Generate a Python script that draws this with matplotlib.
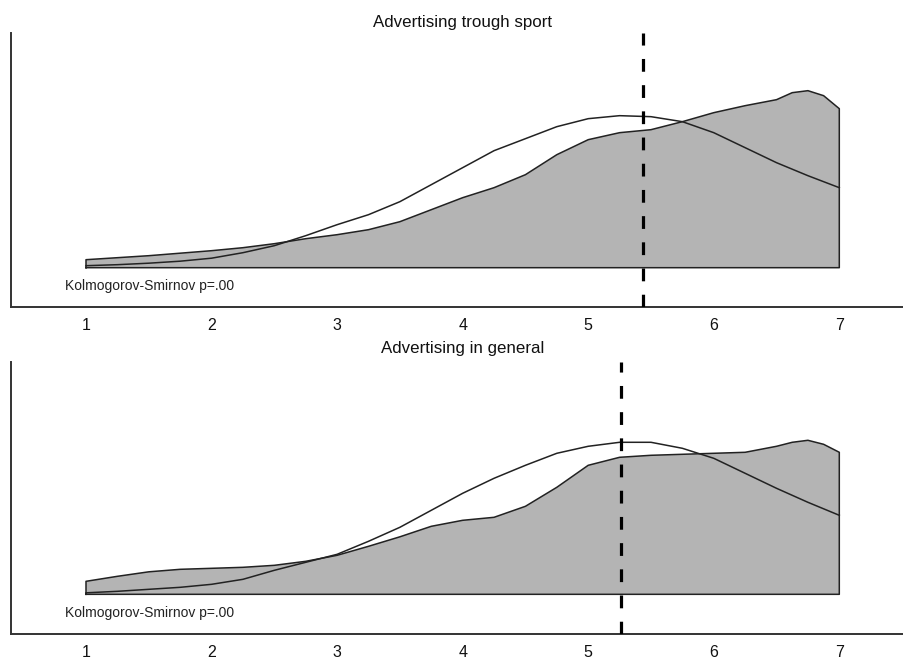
import matplotlib
matplotlib.use('Agg')
import matplotlib.pyplot as plt
import numpy as np

plt.rcParams['font.family'] = ['Liberation Sans', 'DejaVu Sans']

# scale points 1..7, heights (relative density units)
titles = ['Advertising trough sport', 'Advertising in general']
ks_text = 'Kolmogorov-Smirnov p=.00'
ticks = [1, 2, 3, 4, 5, 6, 7]
means = [5.44, 5.26]

x_norm = [1, 1.25, 1.5, 1.75, 2, 2.25, 2.5, 2.75, 3, 3.25, 3.5, 3.75, 4,
          4.25, 4.5, 4.75, 5, 5.25, 5.5, 5.75, 6, 6.25, 6.5, 6.75, 7]
x_kde = [1, 1.25, 1.5, 1.75, 2, 2.25, 2.5, 2.75, 3, 3.25, 3.5, 3.75, 4,
         4.25, 4.5, 4.75, 5, 5.25, 5.5, 5.75, 6, 6.25, 6.5, 6.625, 6.75, 6.875, 7]

sport_kde = [8, 10, 12, 14.5, 17, 20, 24, 29, 33, 38, 46, 58, 70,
             80, 93, 113, 128, 135, 138, 146, 155, 162, 168, 175, 177, 172, 159]
sport_norm = [2, 3, 4.5, 6.5, 9.5, 15, 22, 32, 43, 53, 66, 83, 100,
              117, 129, 141, 149, 152, 151, 146, 135, 120, 105, 92, 80]

general_kde = [13, 18, 22.5, 25, 26, 27, 29, 33, 39, 48, 57.5, 68, 74,
               77, 88, 107, 129, 137, 139, 140, 141, 142, 148, 152, 154, 150, 142]
general_norm = [1.5, 3, 5, 7, 10, 15, 24, 32, 40, 53, 67, 84, 101,
                116, 129, 141, 148, 152, 152, 146, 136, 121, 106, 92, 79]

kdes = [sport_kde, general_kde]
norms = [sport_norm, general_norm]

fig = plt.figure(figsize=(9.04, 6.6), dpi=100)
boxes = [[11 / 904, 0.5344, 893 / 904, 0.4152],
         [11 / 904, 0.0389, 893 / 904, 0.4131]]
ylims = [(-39.6, 234.4), (-40, 232.6)]
title_y = [23, 349]

for i in range(2):
    ax = fig.add_axes(boxes[i])
    ax.fill_between(x_kde, 0, kdes[i], facecolor='#b4b4b4', edgecolor='none', zorder=1)
    # outline of the grey area incl. vertical ends and baseline
    xs = [x_kde[0]] + x_kde + [x_kde[-1], x_kde[0]]
    ys = [0] + kdes[i] + [0, 0]
    ax.plot(xs, ys, color='#222222', lw=1.1, zorder=2, solid_joinstyle='round')
    ax.plot(x_norm, norms[i], color='#222222', lw=1.1, zorder=3, solid_joinstyle='round')
    ax.axvline(means[i], color='black', lw=2.3, ls=(0, (4, 4.2)), zorder=4)

    ax.set_xlim(1 - 75 / 125.55, 7 + 64.7 / 125.55)
    ax.set_ylim(*ylims[i])
    ax.set_xticks(ticks)
    ax.set_xticklabels([str(t) for t in ticks])
    ax.set_yticks([])
    ax.tick_params(axis='x', length=0, pad=8, labelsize=11.5, labelcolor='#111111')
    for s in ['top', 'right']:
        ax.spines[s].set_visible(False)
    for s in ['left', 'bottom']:
        ax.spines[s].set_color('#333333')
        ax.spines[s].set_linewidth(1.4)

    ax.text(1 - 21 / 125.55, -18.4, ks_text, fontsize=10, va='center', ha='left',
            color='#222222')
    fig.text(463 / 904, 1 - title_y[i] / 660, titles[i], fontsize=12.2,
             ha='center', va='center', color='#111111')

fig.savefig('out.png', dpi=100)
